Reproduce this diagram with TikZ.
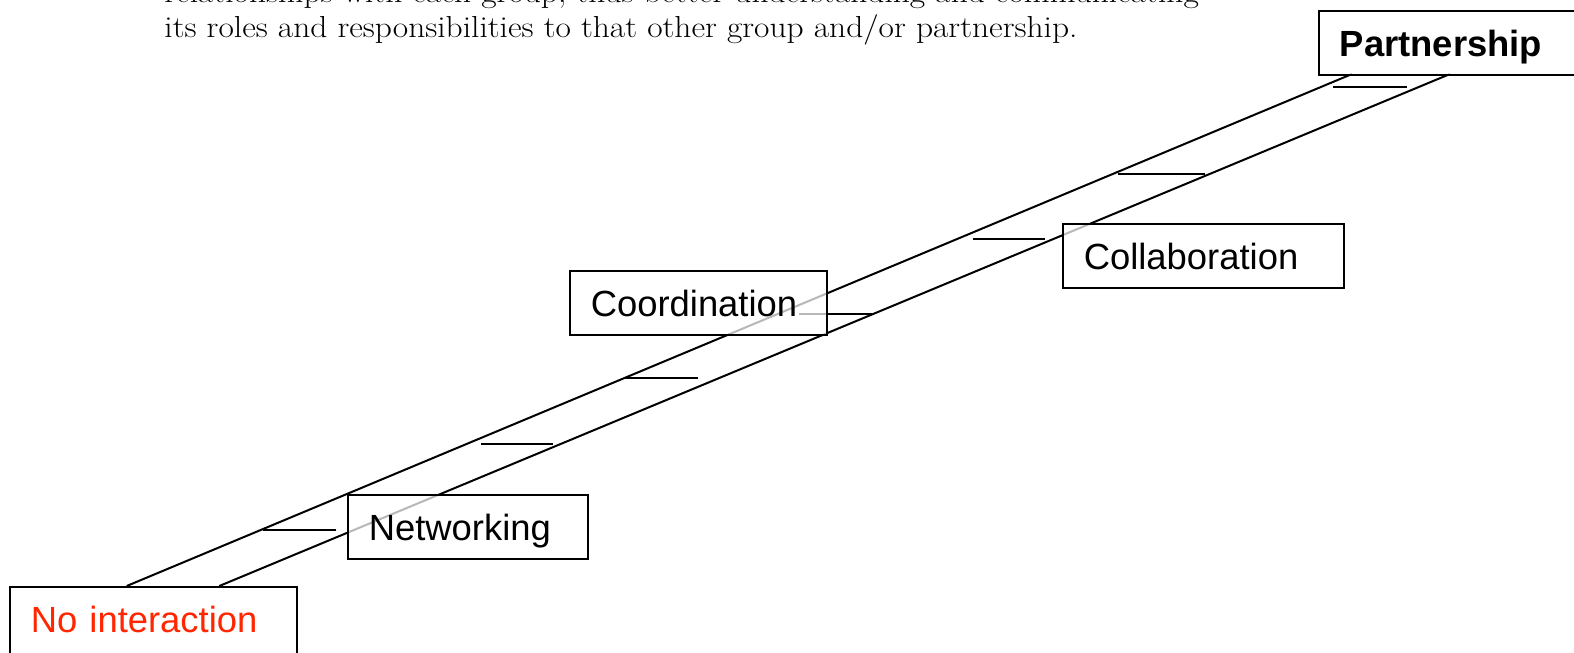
\documentclass[tikz,border=0pt]{standalone}
\usepackage{fontspec}
\newfontfamily\arialf{Liberation Sans}
\definecolor{nired}{RGB}{255,38,0}
\begin{document}
\begin{tikzpicture}[x=0.5pt,y=-0.5pt,
  box/.style={draw=black, line width=0.8pt, fill=white, fill opacity=0.72, text opacity=1,
    rectangle, anchor=north west, inner xsep=10.5pt, inner ysep=0pt,
    text height=23pt, text depth=9pt, align=left,
    font=\arialf\fontsize{18.2}{20}\selectfont},
  rail/.style={line width=1pt, black},
  rung/.style={line width=1pt, black},
  bodytext/.style={anchor=base west, inner sep=0pt, font=\fontsize{15.2}{17}\selectfont}]
\useasboundingbox (0,0) rectangle (1574,653);
\clip (0,0) rectangle (1574,653);
\fill[white] (0,0) rectangle (1574,653);

% text at top
\node[bodytext] (t1) at (164,3) {\scalebox{1.1}[1]{relationships with each group, thus better understanding and communicating}};
\node[bodytext] (t2) at (164,37) {\scalebox{1.1}[1]{its roles and responsibilities to that other group and/or partnership.}};

% rails
\coordinate (ua) at (126.7,586);
\coordinate (ub) at (1352,74);
\coordinate (la) at (219.3,586);
\coordinate (lb) at (1450,74);
\draw[rail] (ua) -- (ub);
\draw[rail] (la) -- (lb);

% rungs
\coordinate (r1a) at (263,530);  \coordinate (r1b) at (336,530);
\coordinate (r2a) at (481,444);  \coordinate (r2b) at (553,444);
\coordinate (r3a) at (625,378);  \coordinate (r3b) at (698,378);
\coordinate (r4a) at (799,314);  \coordinate (r4b) at (872,314);
\coordinate (r5a) at (973,239);  \coordinate (r5b) at (1045,239);
\coordinate (r6a) at (1118,174); \coordinate (r6b) at (1205,174);
\coordinate (r7a) at (1333,87);  \coordinate (r7b) at (1407,87);
\foreach \i in {1,...,7} {\draw[rung] (r\i a) -- (r\i b);}

% boxes
\node[box, text width=122.5pt, text depth=17pt, text=nired] (noint) at (9,586) {No interaction};
\node[box, text width=99pt] (net) at (347,494) {Networking};
\node[box, text width=107.5pt] (coord) at (569,270) {Coordination};
\node[box, text width=119.5pt] (collab) at (1062,223) {Collaboration};
\node[box, text width=122.5pt, font=\arialf\bfseries\fontsize{18.2}{20}\selectfont] (part) at (1318,10) {Partnership};
\end{tikzpicture}
\end{document}
